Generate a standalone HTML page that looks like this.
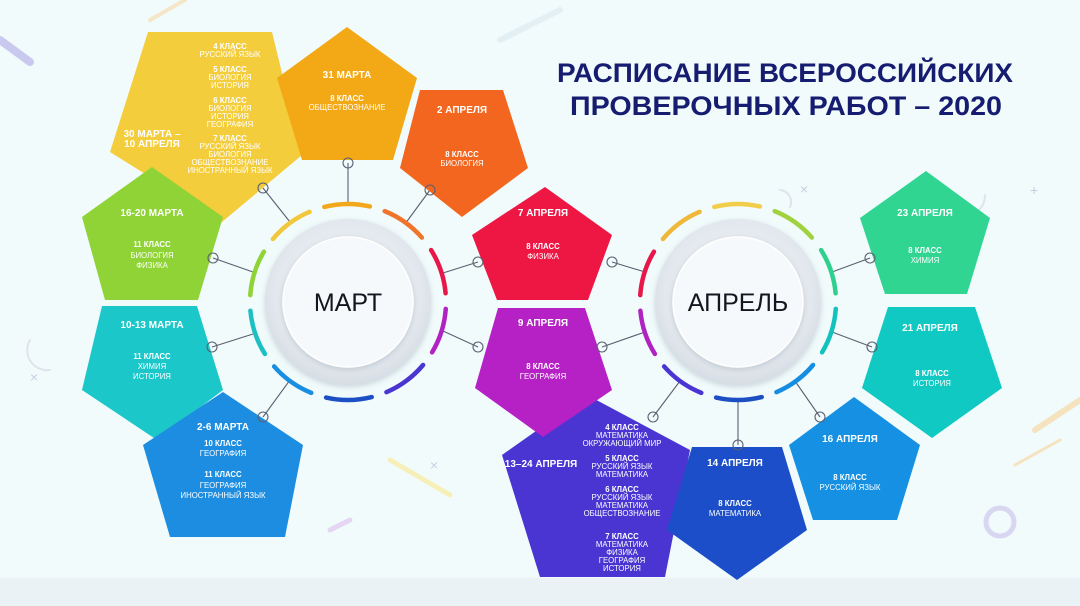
<!DOCTYPE html>
<html><head><meta charset="utf-8"><style>
html,body{margin:0;padding:0;background:#f1fbfc;}
svg{display:block;}
text{font-family:"Liberation Sans","DejaVu Sans",sans-serif;}
.d{font-size:10px;font-weight:bold;fill:#fff;text-anchor:middle;}
.c{font-size:7.8px;font-weight:bold;fill:#fff;text-anchor:middle;}
.s{font-size:7.8px;fill:#fff;text-anchor:middle;}
</style></head><body>
<svg width="1080" height="606" viewBox="0 0 1080 606" xmlns="http://www.w3.org/2000/svg">
<defs>
<radialGradient id="rg" cx="50%" cy="45%" r="55%"><stop offset="0" stop-color="#f4f7fa"/><stop offset="0.8" stop-color="#e3e8ee"/><stop offset="1" stop-color="#d6dde4"/></radialGradient>
<filter id="sh" x="-20%" y="-20%" width="140%" height="140%"><feDropShadow dx="0" dy="2" stdDeviation="3" flood-color="#8090a0" flood-opacity="0.35"/></filter>
</defs>
<rect width="1080" height="606" fill="#f1fbfc"/>
<g stroke-linecap="round" fill="none">
<line x1="0" y1="40" x2="30" y2="62" stroke="#c9c9f0" stroke-width="8"/>
<line x1="150" y1="20" x2="185" y2="0" stroke="#f5e6c8" stroke-width="4"/>
<line x1="500" y1="40" x2="560" y2="10" stroke="#e3f0f3" stroke-width="6"/>
<line x1="1035" y1="430" x2="1080" y2="400" stroke="#f5e2bf" stroke-width="6"/>
<line x1="1015" y1="465" x2="1060" y2="440" stroke="#f5e2bf" stroke-width="3"/>
<line x1="390" y1="460" x2="450" y2="495" stroke="#f6f0b8" stroke-width="5"/>
<line x1="330" y1="530" x2="350" y2="520" stroke="#e6d6f4" stroke-width="5"/>
<circle cx="1000" cy="522" r="14" stroke="#d9d6f2" stroke-width="5"/>
<path d="M790 207 A12 12 0 0 0 780 190" stroke="#dfe3ec" stroke-width="2"/>
<path d="M30 340 A20 20 0 0 0 50 370" stroke="#e0e4ea" stroke-width="2"/>
<path d="M960 215 A20 20 0 0 0 985 195" stroke="#dfe3ec" stroke-width="2"/>
</g>
<g fill="#c9cde0" font-size="14" font-family="Liberation Sans">
<text x="800" y="194">×</text><text x="1030" y="195">+</text><text x="30" y="382">×</text><text x="430" y="470">×</text>
</g>
<rect x="0" y="578" width="1080" height="28" fill="#eaf2f5"/>

<g stroke="#5a6070" stroke-width="1.1" fill="#f1fbfc">
<line x1="263" y1="188" x2="290" y2="222"/>
<line x1="348" y1="163" x2="348" y2="203"/>
<line x1="430" y1="190" x2="405" y2="224"/>
<line x1="478" y1="262" x2="443" y2="273"/>
<line x1="478" y1="347" x2="443" y2="331"/>
<line x1="213" y1="258" x2="253" y2="272"/>
<line x1="212" y1="347" x2="253" y2="334"/>
<line x1="263" y1="417" x2="290" y2="380"/>
<line x1="612" y1="262" x2="645" y2="272"/>
<line x1="602" y1="347" x2="645" y2="332"/>
<line x1="653" y1="417" x2="680" y2="381"/>
<line x1="738" y1="400" x2="738" y2="445"/>
<line x1="820" y1="417" x2="795" y2="381"/>
<line x1="872" y1="347" x2="832" y2="332"/>
<line x1="870" y1="258" x2="832" y2="272"/>
</g>

<polygon points="148,32 272,32 302,155 222,222 110,152" fill="#f4cd3c"/>
<polygon points="347,27 417,78 393,160 302,160 277,78" fill="#f3a815"/>
<polygon points="420,90 503,90 528,168 462,217 400,168" fill="#f2661f"/>
<polygon points="545,187 612,235 588,300 497,300 472,235" fill="#ee1744"/>
<polygon points="152,167 223,217 198,300 105,300 82,217" fill="#8fd336"/>
<polygon points="102,306 197,306 223,390 157,440 82,390" fill="#1cc7c9"/>
<polygon points="223,392 303,445 285,537 170,537 143,445" fill="#1c8de0"/>
<polygon points="587,395 690,450 665,577 540,577 502,455" fill="#4a34d2"/>
<polygon points="498,308 585,308 612,390 543,437 475,388" fill="#b521c5"/>
<polygon points="692,447 782,447 807,530 737,580 667,530" fill="#1b4ec8"/>
<polygon points="854,397 920,445 897,520 813,520 789,445" fill="#1590e2"/>
<polygon points="888,307 975,307 1002,388 932,438 862,388" fill="#10c9c2"/>
<polygon points="926,171 990,218 967,294 885,294 860,218" fill="#2fd590"/>

<g stroke="#5a6070" stroke-width="1.1" fill="none">
<circle cx="263" cy="188" r="5"/><circle cx="348" cy="163" r="5"/><circle cx="430" cy="190" r="5"/>
<circle cx="478" cy="262" r="5"/><circle cx="478" cy="347" r="5"/><circle cx="213" cy="258" r="5"/>
<circle cx="212" cy="347" r="5"/><circle cx="263" cy="417" r="5"/><circle cx="612" cy="262" r="5"/>
<circle cx="602" cy="347" r="5"/><circle cx="653" cy="417" r="5"/><circle cx="738" cy="445" r="5"/>
<circle cx="820" cy="417" r="5"/><circle cx="872" cy="347" r="5"/><circle cx="870" cy="258" r="5"/>
</g>

<g transform="translate(348,302)">
<circle r="83" fill="url(#rg)" filter="url(#sh)"/>
<circle r="65" fill="#f6f9fb" stroke="#fff" stroke-width="1.5" filter="url(#sh)"/>
<g fill="none" stroke-width="4.5" stroke-linecap="round" stroke-dasharray="46 600">
<circle r="98" stroke="#8fd336" transform="rotate(-176)"/>
<circle r="98" stroke="#f1c83c" transform="rotate(-140)"/>
<circle r="98" stroke="#f2a81a" transform="rotate(-104)"/>
<circle r="98" stroke="#f0742a" transform="rotate(-68)"/>
<circle r="98" stroke="#e8174a" transform="rotate(-32)"/>
<circle r="98" stroke="#b023c2" transform="rotate(4)"/>
<circle r="98" stroke="#4a34d2" transform="rotate(40)"/>
<circle r="98" stroke="#1d4fc4" transform="rotate(76)"/>
<circle r="98" stroke="#1a8ee0" transform="rotate(112)"/>
<circle r="98" stroke="#1cc0c2" transform="rotate(148)"/>
</g>
<text x="0" y="9" font-size="25" fill="#15151f" text-anchor="middle">МАРТ</text>
</g>
<g transform="translate(738,302)">
<circle r="83" fill="url(#rg)" filter="url(#sh)"/>
<circle r="65" fill="#f6f9fb" stroke="#fff" stroke-width="1.5" filter="url(#sh)"/>
<g fill="none" stroke-width="4.5" stroke-linecap="round" stroke-dasharray="46 600">
<circle r="98" stroke="#e8174a" transform="rotate(-176)"/>
<circle r="98" stroke="#f0b83a" transform="rotate(-140)"/>
<circle r="98" stroke="#f2cd4a" transform="rotate(-104)"/>
<circle r="98" stroke="#9fd23c" transform="rotate(-68)"/>
<circle r="98" stroke="#2fd08e" transform="rotate(-32)"/>
<circle r="98" stroke="#12c2bd" transform="rotate(4)"/>
<circle r="98" stroke="#158de0" transform="rotate(40)"/>
<circle r="98" stroke="#1d4fc4" transform="rotate(76)"/>
<circle r="98" stroke="#4a34d2" transform="rotate(112)"/>
<circle r="98" stroke="#b023c2" transform="rotate(148)"/>
</g>
<text x="0" y="9" font-size="25" fill="#15151f" text-anchor="middle">АПРЕЛЬ</text>
</g>

<text x="557" y="82" font-size="27" font-weight="bold" fill="#161c70" textLength="456" lengthAdjust="spacingAndGlyphs">РАСПИСАНИЕ ВСЕРОССИЙСКИХ</text>
<text x="570" y="115" font-size="27" font-weight="bold" fill="#161c70" textLength="432" lengthAdjust="spacingAndGlyphs">ПРОВЕРОЧНЫХ РАБОТ – 2020</text>

<text class="d" x="152" y="137">30 МАРТА –</text><text class="d" x="152" y="147">10 АПРЕЛЯ</text>
<text class="c" x="230" y="49">4 КЛАСС</text><text class="s" x="230" y="57">РУССКИЙ ЯЗЫК</text>
<text class="c" x="230" y="72">5 КЛАСС</text><text class="s" x="230" y="80">БИОЛОГИЯ</text><text class="s" x="230" y="88">ИСТОРИЯ</text>
<text class="c" x="230" y="103">6 КЛАСС</text><text class="s" x="230" y="111">БИОЛОГИЯ</text><text class="s" x="230" y="119">ИСТОРИЯ</text><text class="s" x="230" y="127">ГЕОГРАФИЯ</text>
<text class="c" x="230" y="141">7 КЛАСС</text><text class="s" x="230" y="149">РУССКИЙ ЯЗЫК</text><text class="s" x="230" y="157">БИОЛОГИЯ</text><text class="s" x="230" y="165">ОБЩЕСТВОЗНАНИЕ</text><text class="s" x="230" y="173">ИНОСТРАННЫЙ ЯЗЫК</text>

<text class="d" x="347" y="78">31 МАРТА</text><text class="c" x="347" y="101">8 КЛАСС</text><text class="s" x="347" y="110">ОБЩЕСТВОЗНАНИЕ</text>
<text class="d" x="462" y="113">2 АПРЕЛЯ</text><text class="c" x="462" y="157">8 КЛАСС</text><text class="s" x="462" y="166">БИОЛОГИЯ</text>
<text class="d" x="543" y="216">7 АПРЕЛЯ</text><text class="c" x="543" y="249">8 КЛАСС</text><text class="s" x="543" y="259">ФИЗИКА</text>
<text class="d" x="543" y="326">9 АПРЕЛЯ</text><text class="c" x="543" y="369">8 КЛАСС</text><text class="s" x="543" y="379">ГЕОГРАФИЯ</text>

<text class="d" x="541" y="467">13–24 АПРЕЛЯ</text>
<text class="c" x="622" y="430">4 КЛАСС</text><text class="s" x="622" y="438">МАТЕМАТИКА</text><text class="s" x="622" y="446">ОКРУЖАЮЩИЙ МИР</text>
<text class="c" x="622" y="461">5 КЛАСС</text><text class="s" x="622" y="469">РУССКИЙ ЯЗЫК</text><text class="s" x="622" y="477">МАТЕМАТИКА</text>
<text class="c" x="622" y="492">6 КЛАСС</text><text class="s" x="622" y="500">РУССКИЙ ЯЗЫК</text><text class="s" x="622" y="508">МАТЕМАТИКА</text><text class="s" x="622" y="516">ОБЩЕСТВОЗНАНИЕ</text>
<text class="c" x="622" y="539">7 КЛАСС</text><text class="s" x="622" y="547">МАТЕМАТИКА</text><text class="s" x="622" y="555">ФИЗИКА</text><text class="s" x="622" y="563">ГЕОГРАФИЯ</text><text class="s" x="622" y="571">ИСТОРИЯ</text>

<text class="d" x="735" y="466">14 АПРЕЛЯ</text><text class="c" x="735" y="506">8 КЛАСС</text><text class="s" x="735" y="516">МАТЕМАТИКА</text>
<text class="d" x="850" y="442">16 АПРЕЛЯ</text><text class="c" x="850" y="480">8 КЛАСС</text><text class="s" x="850" y="490">РУССКИЙ ЯЗЫК</text>
<text class="d" x="930" y="331">21 АПРЕЛЯ</text><text class="c" x="932" y="376">8 КЛАСС</text><text class="s" x="932" y="386">ИСТОРИЯ</text>
<text class="d" x="925" y="216">23 АПРЕЛЯ</text><text class="c" x="925" y="253">8 КЛАСС</text><text class="s" x="925" y="263">ХИМИЯ</text>

<text class="d" x="152" y="216">16-20 МАРТА</text><text class="c" x="152" y="247">11 КЛАСС</text><text class="s" x="152" y="258">БИОЛОГИЯ</text><text class="s" x="152" y="268">ФИЗИКА</text>
<text class="d" x="152" y="328">10-13 МАРТА</text><text class="c" x="152" y="359">11 КЛАСС</text><text class="s" x="152" y="369">ХИМИЯ</text><text class="s" x="152" y="379">ИСТОРИЯ</text>
<text class="d" x="223" y="430">2-6 МАРТА</text><text class="c" x="223" y="446">10 КЛАСС</text><text class="s" x="223" y="456">ГЕОГРАФИЯ</text>
<text class="c" x="223" y="477">11 КЛАСС</text><text class="s" x="223" y="488">ГЕОГРАФИЯ</text><text class="s" x="223" y="498">ИНОСТРАННЫЙ ЯЗЫК</text>
</svg>
</body></html>
